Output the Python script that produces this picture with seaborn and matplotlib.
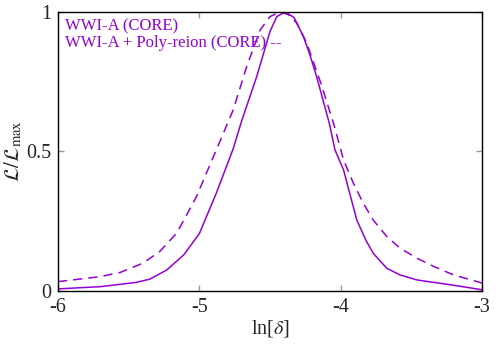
import pandas as pd
import numpy as np
import matplotlib
matplotlib.use('Agg')
import matplotlib.pyplot as plt
import seaborn as sns

sns.set_style('ticks')
plt.rcParams['font.family'] = ['Liberation Serif', 'DejaVu Serif']
plt.rcParams['mathtext.fontset'] = 'stix'

# ln(delta) vs normalised likelihood
x_core = [-6.00, -5.70, -5.585, -5.45, -5.35, -5.23, -5.11, -5.00, -4.88, -4.76,
          -4.70, -4.594, -4.50, -4.452, -4.393, -4.33, -4.264, -4.22, -4.17,
          -4.08, -4.04, -3.98, -3.886, -3.82, -3.77, -3.674, -3.58, -3.46,
          -3.226, -3.00]
y_core = [0.007, 0.015, 0.022, 0.030, 0.042, 0.075, 0.129, 0.205, 0.35, 0.51,
          0.61, 0.768, 0.93, 0.983, 1.0, 0.98, 0.912, 0.85, 0.768,
          0.60, 0.505, 0.434, 0.254, 0.18, 0.135, 0.081, 0.057, 0.039,
          0.022, 0.004]

x_poly = [-6.00, -5.70, -5.56, -5.40, -5.28, -5.16, -5.09, -5.02, -4.95, -4.87,
          -4.76, -4.665, -4.57, -4.50, -4.43, -4.37, -4.31, -4.24, -4.14, -4.05,
          -3.98, -3.91, -3.84, -3.77, -3.674, -3.58, -3.46, -3.34, -3.20, -3.00]
y_poly = [0.033, 0.051, 0.066, 0.099, 0.141, 0.207, 0.272, 0.338, 0.422, 0.517,
          0.649, 0.804, 0.935, 0.983, 1.0, 0.99, 0.96, 0.888, 0.744, 0.60,
          0.47, 0.386, 0.314, 0.254, 0.195, 0.153, 0.117, 0.087, 0.057, 0.028]

labels = ['WWI-A (CORE)', 'WWI-A + Poly-reion (CORE) --']
purple = '#9400D3'

df1 = pd.DataFrame({'x': x_core, 'y': y_core})
df2 = pd.DataFrame({'x': x_poly, 'y': y_poly})

fig = plt.figure(figsize=(5, 3.5), dpi=100)
ax = fig.add_axes([0.116, 0.169, 0.848, 0.797])

sns.lineplot(data=df1, x='x', y='y', ax=ax, color=purple, lw=1.1)
sns.lineplot(data=df2, x='x', y='y', ax=ax, color=purple, lw=1.1)
ax.lines[-1].set_dashes((6, 4))

ax.set_xlim(-6, -3)
ax.set_ylim(0, 1)
ax.set_xticks([-6, -5, -4, -3])
ax.set_xticklabels(['-6', '-5', '-4', '-3'])
ax.set_yticks([0, 0.5, 1])
ax.set_yticklabels(['0', '0.5', '1'])
ax.tick_params(direction='in', top=True, right=True, length=4, width=1,
               color='#999999', labelsize=14.5, pad=5)
for s in ax.spines.values():
    s.set_linewidth(1)
    s.set_color('black')

ax.set_xlabel(r'ln[$\delta$]', fontsize=14.5, labelpad=1)
ax.set_ylabel(r'$\mathcal{L}/\mathcal{L}_{\rm max}$', fontsize=15, labelpad=1)

tops = [0.978, 0.918]
for lab, t in zip(labels, tops):
    ax.text(0.017, t, lab, transform=ax.transAxes,
            color=purple, fontsize=12, va='top', ha='left')

fig.savefig('out.png', dpi=100)
